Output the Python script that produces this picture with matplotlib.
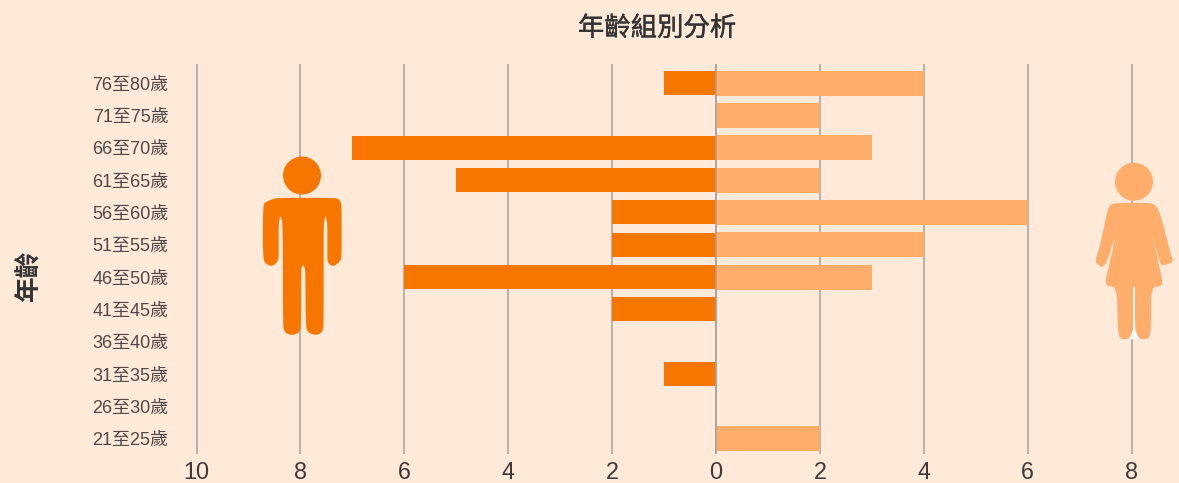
import numpy as np
import matplotlib
matplotlib.use("Agg")
import matplotlib.pyplot as plt
import matplotlib.patheffects as pe
from matplotlib.path import Path
from matplotlib.patches import PathPatch, Circle
from matplotlib.transforms import Affine2D

W, H = 1179, 483
FONT = ['Liberation Sans', 'Noto Sans CJK TC', 'DejaVu Sans']
plt.rcParams['font.family'] = FONT

age_groups = ['76至80歲', '71至75歲', '66至70歲', '61至65歲', '56至60歲', '51至55歲',
              '46至50歲', '41至45歲', '36至40歲', '31至35歲', '26至30歲', '21至25歲']
male = [1, 0, 7, 5, 2, 2, 6, 2, 0, 1, 0, 0]
female = [4, 2, 3, 2, 6, 4, 3, 0, 0, 0, 0, 2]
x_ticks = [-10, -8, -6, -4, -2, 0, 2, 4, 6, 8]
x_labels = ['10', '8', '6', '4', '2', '0', '2', '4', '6', '8']

BG, DARK, LIGHT = '#FFE9D9', '#F77600', '#FFAD6A'
GRID, TXT = '#A3A3A3', '#4F4949'

fig = plt.figure(figsize=(W / 100, H / 100), dpi=100, facecolor=BG)
top, bottom, left = 64, 454, 188
unit, zero = 51.95, 716.0
ax = fig.add_axes([left / W, 1 - bottom / H, (W - left) / W, (bottom - top) / H], facecolor=BG)
ax.set_xlim((left - zero) / unit, (W - zero) / unit)
c0, step = 83.2, 32.3
ax.set_ylim((bottom - c0) / step, (top - c0) / step)
y = np.arange(len(age_groups))
ax.barh(y, [-v for v in male], height=24 / step, color=DARK, zorder=3)
ax.barh(y, female, height=25 / step, color=LIGHT, zorder=3)
ax.set_xticks(x_ticks, x_labels)
ax.set_yticks(y, age_groups)
ax.grid(axis='x', color=GRID, lw=1.1, zorder=1)
ax.axvline(0, color=GRID, lw=1.1, zorder=4)
ax.tick_params(axis='both', length=0)
ax.tick_params(axis='x', labelsize=16.8, labelcolor='#3E3A3A', pad=5)
ax.tick_params(axis='y', labelsize=13, labelcolor=TXT, pad=14)
for s in ax.spines.values():
    s.set_visible(False)
title = fig.text(657 / W, 1 - 28.5 / H, '年齡組別分析', ha='center', va='center', fontsize=19, color='#333333')
title.set_path_effects([pe.withStroke(linewidth=0.25, foreground='#333333')])
fig.text(29 / W, 1 - 276 / H, '年齡', ha='center', va='center', rotation=90, fontsize=18.5, color='#333333', weight='bold')

# decorative icons, in pixel coordinates with y measured from the top
px = Affine2D().scale(1, -1).translate(0, H)

def soften(points, rounds=2):
    p = np.array(points, dtype=float)
    for _ in range(rounds):
        n = np.roll(p, -1, axis=0)
        p = np.column_stack([0.8 * p + 0.2 * n, 0.2 * p + 0.8 * n]).reshape(-1, 2)
    return p.tolist()

def shape(points, color, z=5, smooth=True):
    pts = soften(points) if smooth else points
    verts = pts + [pts[0]]
    codes = [Path.MOVETO] + [Path.LINETO] * (len(pts) - 1) + [Path.CLOSEPOLY]
    fig.add_artist(PathPatch(Path(verts, codes), fc=color, ec=color, lw=0.2, transform=px, zorder=z))

def circle(cx, cy, r, color):
    fig.add_artist(Circle((cx, cy), r, fc=color, ec='none', transform=px, zorder=5))

circle(302, 175.5, 19, DARK)
shape([(263, 204), (268, 201), (275, 198.5), (281, 198), (335, 198), (339, 199.5), (341.5, 204),
       (341.5, 258), (339, 262), (335, 265.5), (331, 265.5), (328, 262), (327.5, 258), (327.5, 224),
       (326, 216.5), (325, 216.5), (323.5, 224), (323.5, 326), (322, 332), (318, 334.5), (313, 334.5),
       (308, 332), (306, 326), (305.5, 270), (304, 265.5), (302, 265.5), (301, 270), (301, 326),
       (299, 332), (295, 334.5), (289, 334.5), (285, 332), (283, 326), (283, 224), (281, 216.5),
       (280, 216.5), (278.5, 224), (278.5, 258), (277, 262), (273, 265.5), (269, 265.5), (263, 261)], DARK)

circle(1134, 181.7, 19, LIGHT)
shape([(1108, 208), (1113, 203), (1150, 203), (1155, 205), (1160, 213), (1170, 252), (1173.5, 262),
       (1163, 265.5), (1160, 263), (1152, 231), (1158, 262), (1163.5, 285.5), (1151, 287), (1151, 327),
       (1149, 339), (1139, 339), (1135, 330), (1135, 287), (1133, 287), (1133, 330), (1129, 339),
       (1120, 339), (1118, 330), (1117, 287), (1104.5, 285.5), (1110, 262), (1117, 231), (1106, 264),
       (1101, 267.5), (1095, 261), (1100, 247)], LIGHT)
shape([(1133.2, 287), (1134.8, 287), (1134.8, 330), (1139, 339), (1129.5, 339), (1133.2, 330)],
      'white', z=6, smooth=False)

fig.savefig('out.png', dpi=100, facecolor=BG)
